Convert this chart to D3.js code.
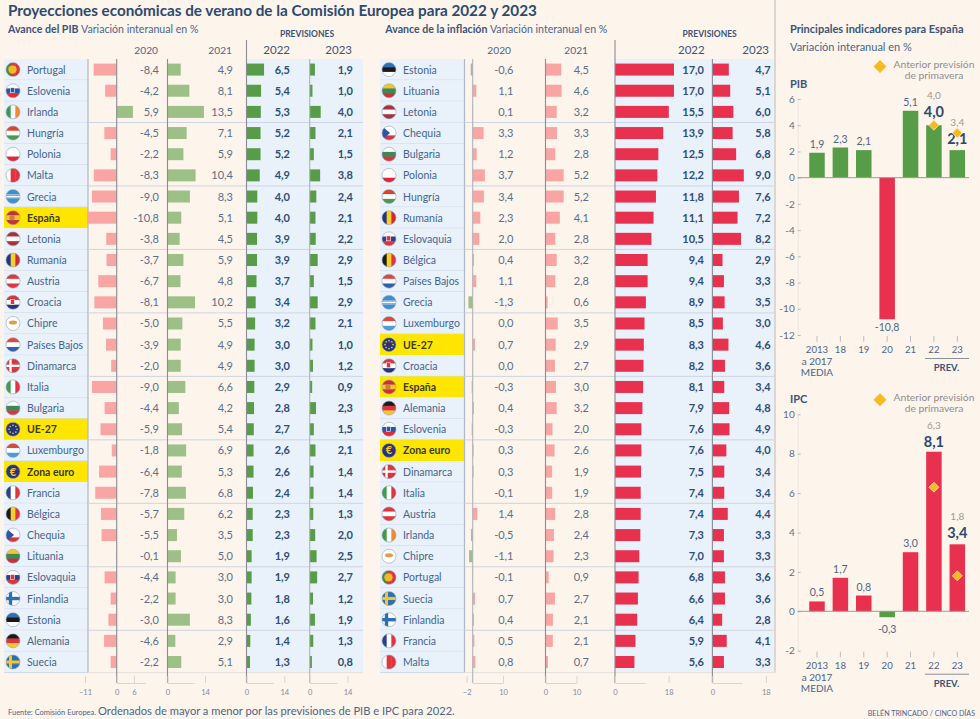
<!DOCTYPE html>
<html lang="es">
<head>
<meta charset="utf-8">
<title>Proyecciones económicas de verano</title>
<script src="https://cdn.jsdelivr.net/npm/d3@7"></script>
<style>
  html, body { margin: 0; background: #fdf4ec; }
  svg { display: block; font-family: Lato, "Open Sans", sans-serif; }
  .tickAxis text { font-family: Lato, sans-serif; font-size: 7.5px; fill: #7d8a9b; }
  .tickAxis line, .tickAxis path { stroke: #d9d5cf; }
  .panelAxis text { font-family: Lato, sans-serif; font-size: 10px; fill: #5b6f88; }
  .panelAxis line { stroke: #b9bcc0; }
  .panelAxis path { stroke: #ece6df; }
</style>
</head>
<body>
<svg id="chart" width="980" height="719"></svg>
<script>
// ---- data ----
const gdpCountries = ["Portugal","Eslovenia","Irlanda","Hungría","Polonia","Malta","Grecia","España","Letonia","Rumanía","Austria","Croacia","Chipre","Países Bajos","Dinamarca","Italia","Bulgaria","UE-27","Luxemburgo","Zona euro","Francia","Bélgica","Chequia","Lituania","Eslovaquia","Finlandia","Estonia","Alemania","Suecia"];
const gdp2020 = [-8.4,-4.2,5.9,-4.5,-2.2,-8.3,-9.0,-10.8,-3.8,-3.7,-6.7,-8.1,-5.0,-3.9,-2.0,-9.0,-4.4,-5.9,-1.8,-6.4,-7.8,-5.7,-5.5,-0.1,-4.4,-2.2,-3.0,-4.6,-2.2];
const gdp2021 = [4.9,8.1,13.5,7.1,5.9,10.4,8.3,5.1,4.5,5.9,4.8,10.2,5.5,4.9,4.9,6.6,4.2,5.4,6.9,5.3,6.8,6.2,3.5,5.0,3.0,3.0,8.3,2.9,5.1];
const gdp2022 = [6.5,5.4,5.3,5.2,5.2,4.9,4.0,4.0,3.9,3.9,3.7,3.4,3.2,3.0,3.0,2.9,2.8,2.7,2.6,2.6,2.4,2.3,2.3,1.9,1.9,1.8,1.6,1.4,1.3];
const gdp2023 = [1.9,1.0,4.0,2.1,1.5,3.8,2.4,2.1,2.2,2.9,1.5,2.9,2.1,1.0,1.2,0.9,2.3,1.5,2.1,1.4,1.4,1.3,2.0,2.5,2.7,1.2,1.9,1.3,0.8];

const cpiCountries = ["Estonia","Lituania","Letonia","Chequia","Bulgaria","Polonia","Hungría","Rumanía","Eslovaquia","Bélgica","Países Bajos","Grecia","Luxemburgo","UE-27","Croacia","España","Alemania","Eslovenia","Zona euro","Dinamarca","Italia","Austria","Irlanda","Chipre","Portugal","Suecia","Finlandia","Francia","Malta"];
const cpi2020 = [-0.6,1.1,0.1,3.3,1.2,3.7,3.4,2.3,2.0,0.4,1.1,-1.3,0.0,0.7,0.0,-0.3,0.4,-0.3,0.3,0.3,-0.1,1.4,-0.5,-1.1,-0.1,0.7,0.4,0.5,0.8];
const cpi2021 = [4.5,4.6,3.2,3.3,2.8,5.2,5.2,4.1,2.8,3.2,2.8,0.6,3.5,2.9,2.7,3.0,3.2,2.0,2.6,1.9,1.9,2.8,2.4,2.3,0.9,2.7,2.1,2.1,0.7];
const cpi2022 = [17.0,17.0,15.5,13.9,12.5,12.2,11.8,11.1,10.5,9.4,9.4,8.9,8.5,8.3,8.2,8.1,7.9,7.6,7.6,7.5,7.4,7.4,7.3,7.0,6.8,6.6,6.4,5.9,5.6];
const cpi2023 = [4.7,5.1,6.0,5.8,6.8,9.0,7.6,7.2,8.2,2.9,3.3,3.5,3.0,4.6,3.6,3.4,4.8,4.9,4.0,3.4,3.4,4.4,3.3,3.3,3.6,3.6,2.8,4.1,3.3];

const spainYears = ["2013","18","19","20","21","22","23"];
const spainGdp = [1.9,2.3,2.1,-10.8,5.1,4.0,2.1];
const spainGdpPrior = [null,null,null,null,null,4.0,3.4];
const spainCpi = [0.5,1.7,0.8,-0.3,3.0,8.1,3.4];
const spainCpiPrior = [null,null,null,null,null,6.3,1.8];
const gdpAxisTicks = [6,4,2,0,-2,-4,-6,-8,-10,-12];
const cpiAxisTicks = [10,8,6,4,2,0,-2];

const highlighted = ["España","UE-27","Zona euro"];

// ---- colours ----
const cellBlue = "#e9f1fb", navy = "#2c4a70", slate = "#4b6688";
const green = "#579c46", paleGreen = "#9cc086", red = "#e8304f", pink = "#f9a5a3", amber = "#f7bb22";

const comma = d3.formatLocale({ decimal: ",", thousands: ".", grouping: [3], currency: ["", "€"], minus: "-" }).format(".1f");
const svg = d3.select("#chart");

function label(parent, x, y, txt, size, color, weight, anchor) {
  return parent.append("text").attr("x", x).attr("y", y).text(txt)
    .attr("font-size", size).attr("fill", color)
    .attr("font-weight", weight || 400).attr("text-anchor", anchor || "start");
}

// flags are small decorations, drawn by hand inside a clipped circle
const flagStripes = {
  "Eslovenia": ["h","#fff","#2a57a5","#e22a32"], "Irlanda": ["v","#3b9a4c","#fff","#f08a35"], "Hungría": ["h","#d9442f","#fff","#4a9a4e"],
  "Polonia": ["h","#fff","#fff","#e0243a"], "Letonia": ["h","#a5343f","#fff","#a5343f"], "Rumanía": ["v","#24357f","#f7cf2a","#cf2a3a"],
  "Austria": ["h","#e0353f","#fff","#e0353f"], "Croacia": ["h","#d9353f","#fff","#26347d"], "Países Bajos": ["h","#d9493c","#fff","#2f5fae"],
  "Luxemburgo": ["h","#d9493c","#fff","#4f9ad8"],
  "Italia": ["v","#3f9c4c","#fff","#e0353f"], "Bulgaria": ["h","#fff","#3a8a55","#d9353f"], "Francia": ["v","#2a3f8f","#fff","#e0353f"],
  "Bélgica": ["v","#1a1a1a","#f7cf2a","#e0353f"], "Lituania": ["h","#f5c52a","#3a8a55","#c9303a"], "Eslovaquia": ["h","#fff","#2a3f8f","#d9353f"],
  "Estonia": ["h","#2f6fb5","#1a1a1a","#fff"], "Alemania": ["h","#1a1a1a","#d9353f","#f5c52a"], "España": ["h","#c9303a","#f5c52a","#c9303a"],
  "Portugal": ["v","#3f8f3f","#d9353f","#d9353f"], "Malta": ["v","#fff","#e0353f","#e0353f"], "Chequia": ["h","#fff","#fff","#d9353f"],
  "Grecia": ["h","#3f8fd0","#fff","#3f8fd0"], "Chipre": ["h","#fff","#fff","#fff"], "Suecia": ["h","#2b6fb5","#2b6fb5","#2b6fb5"],
  "Finlandia": ["h","#fff","#fff","#fff"], "Dinamarca": ["h","#d9353f","#d9353f","#d9353f"], "UE-27": ["h","#26347d","#26347d","#26347d"],
  "Zona euro": ["h","#26347d","#26347d","#26347d"]
};
let flagId = 0;
function drawFlag(parent, name, cx, cy) {
  const r = 7, id = "flag" + (flagId++);
  parent.append("clipPath").attr("id", id).append("circle").attr("cx", cx).attr("cy", cy).attr("r", r);
  const f = parent.append("g").attr("clip-path", `url(#${id})`);
  const s = flagStripes[name];
  s.slice(1).forEach((c, i) => {
    if (s[0] === "h") f.append("rect").attr("x", cx - r).attr("y", cy - r + i * 14 / 3).attr("width", 14).attr("height", 14 / 3 + 0.4).attr("fill", c);
    else f.append("rect").attr("x", cx - r + i * 14 / 3).attr("y", cy - r).attr("width", 14 / 3 + 0.4).attr("height", 14).attr("fill", c);
  });
  const cross = (col, w) => {
    f.append("rect").attr("x", cx - r).attr("y", cy - w / 2).attr("width", 14).attr("height", w).attr("fill", col);
    f.append("rect").attr("x", cx - 2.5 - w / 2).attr("y", cy - r).attr("width", w).attr("height", 14).attr("fill", col);
  };
  if (name === "Suecia") cross("#f5c52a", 3);
  if (name === "Finlandia") cross("#2b6fb5", 3.4);
  if (name === "Dinamarca") cross("#fff", 2.4);
  if (name === "Chequia") f.append("path").attr("d", `M${cx - r},${cy - r}L${cx + 1},${cy}L${cx - r},${cy + r}Z`).attr("fill", "#2a57a5");
  if (name === "Grecia") {
    f.append("rect").attr("x", cx - r).attr("y", cy - 2).attr("width", 14).attr("height", 1.2).attr("fill", "#3f8fd0");
    f.append("rect").attr("x", cx - r).attr("y", cy + 1).attr("width", 14).attr("height", 1.2).attr("fill", "#3f8fd0");
  }
  if (name === "Chipre") f.append("ellipse").attr("cx", cx).attr("cy", cy - 1).attr("rx", 4).attr("ry", 2).attr("fill", "#e39a4a");
  if (name === "Croacia" || name === "Eslovaquia" || name === "Eslovenia") f.append("rect").attr("x", cx - 2.5).attr("y", cy - 3).attr("width", 4).attr("height", 5).attr("fill", name === "Eslovenia" ? "#2a57a5" : "#d9353f").attr("stroke", "#fff").attr("stroke-width", 0.6);
  if (name === "Portugal") f.append("circle").attr("cx", cx - 0.5).attr("cy", cy).attr("r", 4.2).attr("fill", "#f0b92a");
  if (name === "España") f.append("circle").attr("cx", cx - 1).attr("cy", cy).attr("r", 2.6).attr("fill", "#c9803a");
  if (name === "UE-27") d3.range(8).forEach(i => f.append("circle")
    .attr("cx", cx + 4 * Math.cos(i * Math.PI / 4)).attr("cy", cy + 4 * Math.sin(i * Math.PI / 4)).attr("r", 0.8).attr("fill", "#f5d52a"));
  if (name === "Zona euro") label(f, cx, cy + 4, "€", 11, "#f5c52a", 700, "middle");
  parent.append("circle").attr("cx", cx).attr("cy", cy).attr("r", r).attr("fill", "none").attr("stroke", "#9aa3ad").attr("stroke-width", 0.6);
}

// one of the two big tables: country column + four bar columns
function drawTable(cfg) {
  const g = svg.append("g");
  const rows = d3.scaleBand().domain(cfg.countries).range([59, 672.6]);
  const h = rows.step();
  const barH = 12;

  // blue band behind the forecast columns
  g.append("rect").attr("x", cfg.blueFrom).attr("y", 59).attr("width", cfg.blueTo - cfg.blueFrom).attr("height", 613.6).attr("fill", cellBlue);

  // country cells
  cfg.countries.forEach(name => {
    const y = rows(name), on = highlighted.includes(name);
    g.append("rect").attr("x", cfg.cellX).attr("y", y).attr("width", cfg.cellW).attr("height", h)
      .attr("fill", on ? "#ffe600" : cellBlue);
    if (!on) g.append("line").attr("x1", cfg.cellX).attr("x2", cfg.cellX + cfg.cellW).attr("y1", y + h).attr("y2", y + h).attr("stroke", "#cdd9e8");
    drawFlag(g, name, cfg.cellX + 9, y + h / 2);
    label(g, cfg.cellX + 23, y + h / 2 + 4, name, 10.5, on ? "#3a3a20" : "#45658f", on ? 700 : 400);
  });
  g.append("line").attr("x1", cfg.cellX + cfg.cellW).attr("x2", cfg.cellX + cfg.cellW).attr("y1", 59).attr("y2", 672.6).attr("stroke", "#aeb8c6").attr("stroke-width", 1.2);

  // every third row gets a rule across the bars
  d3.range(3, cfg.countries.length, 3).forEach(i => {
    g.append("line").attr("x1", cfg.cellX + cfg.cellW).attr("x2", cfg.blueTo).attr("y1", 59 + i * h).attr("y2", 59 + i * h).attr("stroke", "#ccd5e2");
  });
  g.append("line").attr("x1", cfg.cellX + cfg.cellW).attr("x2", cfg.blueTo).attr("y1", 672.6).attr("y2", 672.6).attr("stroke", "#e6e1dc");

  cfg.columns.forEach(col => {
    const x = d3.scaleLinear().domain([0, 10]).range([col.zero, col.zero + 10 * col.k]);
    const tickX = d3.scaleLinear().domain([0, 10]).range([col.zero, col.zero + 10 * col.tickK]);

    g.selectAll(null).data(col.values).join("rect")
      .attr("x", d => Math.min(x(0), x(d)))
      .attr("y", (d, i) => rows(cfg.countries[i]) + h / 2 - barH / 2)
      .attr("width", d => Math.abs(x(d) - x(0)))
      .attr("height", barH)
      .attr("fill", col.color);

    g.append("line").attr("x1", col.zero).attr("x2", col.zero).attr("y1", col.lineTop).attr("y2", 683)
      .attr("stroke", col.lineColor).attr("stroke-width", 1.1);

    g.selectAll(null).data(col.values).join("text")
      .attr("x", col.textX)
      .attr("y", (d, i) => rows(cfg.countries[i]) + h / 2 + 4)
      .attr("text-anchor", "end")
      .attr("font-size", 11)
      .attr("font-weight", col.bold ? 700 : 400)
      .attr("fill", col.bold ? "#2f4e78" : "#5a6f8a")
      .text(d => comma(d));

    label(g, col.headX, 54, col.year, col.bold ? 11.5 : 10.2, col.bold ? "#3c5578" : "#4f6684", 400, "end");

    const axis = d3.axisBottom(tickX).tickValues(col.ticks).tickSizeInner(-7).tickSizeOuter(0).tickPadding(7);
    g.append("g").attr("class", "tickAxis").attr("transform", "translate(0,683)").call(axis);
  });

  label(g, cfg.prevX, 37, "PREVISIONES", 8.5, "#3c5578", 700, "middle");
  const sub = label(g, cfg.subX, 33, "", 10.6, slate);
  sub.append("tspan").attr("font-weight", 700).attr("fill", "#3c5578").text(cfg.subBold + " ");
  sub.append("tspan").text("Variación interanual en %");
}

const lineDark = "#8a8b93", lineLight = "#aeb3ba";

drawTable({
  countries: gdpCountries, cellX: 4, cellW: 84, blueFrom: 246.5, blueTo: 363,
  prevX: 307, subX: 8, subBold: "Avance del PIB",
  columns: [
    { year: "2020", values: gdp2020, zero: 116.7, k: 2.75, tickK: 2.88, ticks: [-11, 0, 6], textX: 159, headX: 158, color: d => d < 0 ? pink : paleGreen, lineTop: 59, lineColor: lineDark },
    { year: "2021", values: gdp2021, zero: 167.5, k: 2.7, tickK: 2.68, ticks: [0, 14], textX: 233, headX: 232, color: paleGreen, lineTop: 59, lineColor: lineDark },
    { year: "2022", values: gdp2022, zero: 246.5, k: 2.7, tickK: 2.7, ticks: [0, 14], textX: 290, headX: 290, color: green, lineTop: 40, lineColor: lineDark, bold: true },
    { year: "2023", values: gdp2023, zero: 309.7, k: 2.75, tickK: 2.7, ticks: [0, 14], textX: 353, headX: 352, color: green, lineTop: 59, lineColor: lineLight, bold: true }
  ]
});

drawTable({
  countries: cpiCountries, cellX: 380, cellW: 84.5, blueFrom: 615, blueTo: 774,
  prevX: 709.7, subX: 385.3, subBold: "Avance de la inflación",
  columns: [
    { year: "2020", values: cpi2020, zero: 472.7, k: 3.3, tickK: 3.03, ticks: [-2, 10], textX: 513.5, headX: 511, color: d => d < 0 ? paleGreen : pink, lineTop: 59, lineColor: lineLight },
    { year: "2021", values: cpi2021, zero: 545.5, k: 3.5, tickK: 3.1, ticks: [0, 10], textX: 589, headX: 588, color: pink, lineTop: 59, lineColor: lineDark },
    { year: "2022", values: cpi2022, zero: 615, k: 3.47, tickK: 2.98, ticks: [0, 18], textX: 704, headX: 704.7, color: red, lineTop: 40, lineColor: lineDark, bold: true },
    { year: "2023", values: cpi2023, zero: 712.4, k: 3.49, tickK: 2.97, ticks: [0, 18], textX: 770.7, headX: 769, color: red, lineTop: 59, lineColor: lineDark, bold: true }
  ]
});

// Spain panel: column chart with the spring forecast as diamonds
function diamond(parent, cx, cy, r, stroke) {
  parent.append("path").attr("d", `M${cx},${cy - r}L${cx + r},${cy}L${cx},${cy + r}L${cx - r},${cy}Z`)
    .attr("fill", amber).attr("stroke", stroke || "none").attr("stroke-width", 0.8);
}

function drawSpain(cfg) {
  const g = svg.append("g");
  const x = d3.scaleBand().domain(spainYears).range([805.3, 969]).paddingInner(0.337).paddingOuter(0.1685);
  const y = d3.scaleLinear().domain([cfg.axisTicks[0], d3.min(cfg.axisTicks)]).range([cfg.top, cfg.bottom]);

  label(g, 790, cfg.top - 11, cfg.name, 11, "#3c5578", 700);
  diamond(g, 880, cfg.top - 33 + 0.5 + cfg.legendShift, 6.5);
  label(g, 934, cfg.top - 31.5 + cfg.legendShift, "Anterior previsión", 10.3, "#8f8f8f", 400, "middle");
  label(g, 934, cfg.top - 20.5 + cfg.legendShift, "de primavera", 10.3, "#8f8f8f", 400, "middle");

  g.append("g").attr("class", "panelAxis").attr("transform", "translate(797.7,0)")
    .call(d3.axisLeft(y).tickValues(cfg.axisTicks).tickFormat(d3.format("d")).tickSize(-3).tickPadding(3).tickSizeOuter(0));
  g.selectAll(".panelAxis text").text(d => String(d));

  g.selectAll(null).data(cfg.values).join("rect")
    .attr("x", (d, i) => x(spainYears[i]))
    .attr("y", d => Math.min(y(0), y(d)))
    .attr("width", x.bandwidth())
    .attr("height", d => Math.abs(y(d) - y(0)))
    .attr("fill", d => (d < 0) === cfg.negGreen ? green : red);

  g.append("line").attr("x1", 797.7).attr("x2", 969).attr("y1", y(0)).attr("y2", y(0)).attr("stroke", "#9c9a94");

  cfg.values.forEach((d, i) => {
    const cx = x(spainYears[i]) + x.bandwidth() / 2, prior = cfg.prior[i];
    if (prior === null) {
      const yy = d < 0 ? y(d) + cfg.negGap : y(d) - 5;
      label(g, cx, yy, comma(d), 10.5, "#4f6684", 400, "middle");
    } else {
      const yy = y(d) - cfg.boldGap[i - 5];
      label(g, cx, yy, comma(d), 14.5, navy, 700, "middle");
      label(g, cx, yy - 18, comma(prior), 10, "#9a9a96", 400, "middle");
      diamond(g, cx, y(prior), 5, "#fbe9b5");
    }
  });

  const ty = cfg.bottom + 1;
  const xAxis = d3.axisBottom(x).tickSize(5.7).tickPadding(4.5).tickSizeOuter(0);
  const ax = g.append("g").attr("class", "panelAxis").attr("transform", `translate(0,${ty})`).call(xAxis);
  ax.select(".domain").remove();
  ax.selectAll("text").style("font-size", "9.6px").style("fill", slate);

  const firstX = x(spainYears[0]) + x.bandwidth() / 2;
  label(g, firstX, ty + 29, "a 2017", 10, slate, 400, "middle");
  label(g, firstX, ty + 40, "MEDIA", 10, slate, 400, "middle");
  g.append("line").attr("x1", 925).attr("x2", 969).attr("y1", ty + 22.5).attr("y2", ty + 22.5).attr("stroke", "#8a9098");
  label(g, 946.5, ty + 35, "PREV.", 9.5, "#3c5578", 700, "middle");
}

drawSpain({ name: "PIB", values: spainGdp, prior: spainGdpPrior, axisTicks: gdpAxisTicks, top: 99, bottom: 335, negGreen: false, negGap: 12, boldGap: [8, 6], legendShift: 0 });
drawSpain({ name: "IPC", values: spainCpi, prior: spainCpiPrior, axisTicks: cpiAxisTicks, top: 414.3, bottom: 650.7, negGreen: true, negGap: 16, boldGap: [5, 6], legendShift: 18 });

// titles and footer
label(svg, 8, 15.5, "Proyecciones económicas de verano de la Comisión Europea para 2022 y 2023", 15.25, navy, 700);
svg.append("line").attr("x1", 775).attr("x2", 775).attr("y1", 0).attr("y2", 672.6).attr("stroke", "#b9b9b9");
label(svg, 790, 33, "Principales indicadores para España", 11, "#3c5578", 700);
label(svg, 790, 51, "Variación interanual en %", 11, slate);
label(svg, 8, 715, "Fuente: Comisión Europea.", 7.5, slate);
label(svg, 98, 715, "Ordenados de mayor a menor por las previsiones de PIB e IPC para 2022.", 11.15, slate);
label(svg, 975, 715.5, "BELÉN TRINCADO / CINCO DÍAS", 7.1, slate, 400, "end");
</script>
</body>
</html>
